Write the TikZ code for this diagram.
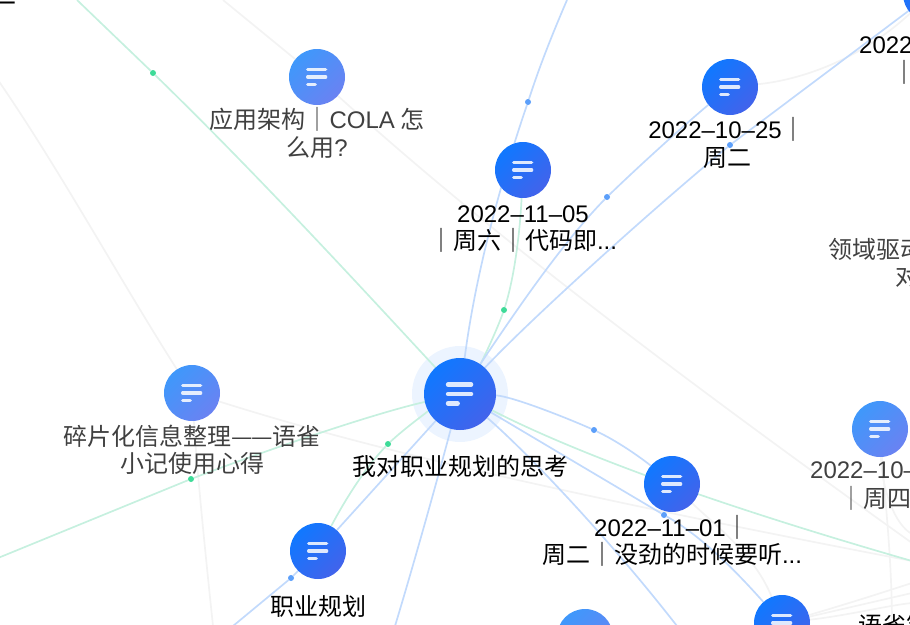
\documentclass[tikz,border=0pt]{standalone}
\usepackage{fontspec}
\setmainfont{Noto Sans CJK SC}
\newfontfamily\latfont{Liberation Sans}
\usetikzlibrary{backgrounds}
\definecolor{bluelink}{HTML}{C2DAFC}
\definecolor{greenlink}{HTML}{C6F0DF}
\definecolor{greylink}{HTML}{F3F3F3}
\definecolor{bluedot}{HTML}{5C9FFA}
\definecolor{greendot}{HTML}{3EDB98}
\definecolor{topA}{HTML}{1078FF}
\definecolor{topB}{HTML}{4263EB}
\definecolor{muteA}{HTML}{3F98FB}
\definecolor{muteB}{HTML}{6A82F2}
\begin{document}
\begin{tikzpicture}[x=1pt, y=-1pt, line cap=round, line join=round,
		font=\fontsize{24}{27.5}\selectfont,
		topic/.style={circle, minimum size=56pt, inner sep=0pt, top color=topA, bottom color=topB, shading angle=45},
		mutetopic/.style={circle, minimum size=56pt, inner sep=0pt, top color=muteA, bottom color=muteB, shading angle=45},
		linkdot/.style={circle, minimum size=6pt, inner sep=0pt},
		blue dot/.style={linkdot, fill=bluedot},
		green dot/.style={linkdot, fill=greendot},
		blue link/.style={draw=bluelink, line width=1.7pt},
		green link/.style={draw=greenlink, line width=1.7pt},
		grey link/.style={draw=greylink, line width=1.7pt},
		strong/.style={align=center, inner sep=0pt, text=black},
		mute/.style={align=center, inner sep=0pt, text=black!75},
		iconbar/.style={draw=white, opacity=0.85},
	]
	\useasboundingbox (0,0) rectangle (910,624);

	% === NODES ===
	\node[topic, minimum size=72pt] (main) at (460,394) {};
	\node[mutetopic] (cola) at (317,77) {};
	\node[topic] (day1105) at (523,170) {};
	\node[topic] (day1025) at (730,87) {};
	\node[topic] (corner) at (931,-6) {};
	\node[topic] (day1101) at (672,484) {};
	\node[mutetopic] (fragment) at (192,393) {};
	\node[topic] (career) at (318,551) {};
	\node[mutetopic] (day1020) at (880,429) {};
	\node[topic] (lowright) at (782,623) {};
	\node[mutetopic] (lowmid) at (585,637) {};

	\foreach \n/\s in {main/1.29, cola/1, day1105/1, day1025/1, corner/1, day1101/1, fragment/1, career/1, day1020/1, lowright/1, lowmid/1} {
		\begin{scope}[shift={(\n)}, scale=\s, line width=\s*3.4pt]
			\draw[iconbar] (-9.3,-7.3) -- (8.6,-7.3);
			\draw[iconbar] (-9.3,0) -- (8.6,0);
			\draw[iconbar] (-9.3,7.3) -- (-1.8,7.3);
		\end{scope}
	}

	% === DOTS ===
	\node[blue dot] (dotA) at (528,102) {};
	\node[blue dot] (dotB) at (607,197) {};
	\node[blue dot] (dotC) at (730,145) {};
	\node[blue dot] (dotD) at (594,430) {};
	\node[blue dot] (dotE) at (664,515) {};
	\node[blue dot] (dotF) at (291,578) {};
	\node[green dot] (dotG) at (153,73) {};
	\node[green dot] (dotH) at (504,310) {};
	\node[green dot] (dotI) at (191,479) {};
	\node[green dot] (dotJ) at (388,444) {};

	% === LABELS ===
	\node[strong] (mainlab) at (460,466.5) {我对职业规划的思考};
	\node[mute] (colalab) at (317,133) {应用架构｜{\latfont COLA} 怎\\么用{\latfont ?}};
	\node[strong] (day1105lab) at (523,229) {{\latfont 2022–11–05}\\｜周六｜代码即{\latfont ...}};
	\node[strong] (day1025lab) at (727,143) {{\latfont 2022–10–25}｜\\周二};
	\node[strong, anchor=west] (cornerlab) at (859,45) {\latfont 2022};
	\node[strong, anchor=west] (cornerbar) at (892,72) {｜};
	\node[strong] (day1101lab) at (672,541) {{\latfont 2022–11–01}｜\\周二｜没劲的时候要听{\latfont ...}};
	\node[mute] (fragmentlab) at (192,450) {碎片化信息整理—\kern-1.5pt—语雀\\小记使用心得};
	\node[strong] (careerlab) at (318,606) {职业规划};
	\node[mute, anchor=west] (day1020lab) at (810,470) {\latfont 2022–10–2};
	\node[mute, anchor=west] (day1020sub) at (839,498) {｜周四｜};
	\node[mute, anchor=west] (domainlab) at (828,249) {领域驱动};
	\node[mute, anchor=west] (domainsub) at (895,276) {对};
	\node[strong, anchor=west] (yuquelab) at (858,625) {语雀笔};
	\node[strong] (cutlab) at (4,-4) {二};

	% === FREE ENDS ===
	\coordinate (endA) at (567,0);
	\coordinate (endB) at (677,626);
	\coordinate (endC) at (233,626);
	\coordinate (endD) at (395,626);
	\coordinate (endE) at (77,0);
	\coordinate (endF) at (-2,558);
	\coordinate (endG) at (912,561);
	\coordinate (endH) at (-2,80);
	\coordinate (endI) at (223,0);
	\coordinate (endJ) at (912,543);
	\coordinate (endK) at (213,626);
	\coordinate (endL) at (892,626);
	\coordinate (endM) at (912,583);
	\coordinate (endN) at (912,593);
	\coordinate (endO) at (912,603);
	\coordinate (endP) at (912,534);

	\begin{pgfonlayer}{background}
		\fill[fill=topA!8] (main) circle (48);

		% === GREY ===
		\draw[grey link] (endH) .. controls (60,170) and (120,280) .. (fragment);
		\draw[grey link] (endI) -- (cola);
		\draw[grey link] (cola) .. controls (450,197) and (600,320) .. (endJ);
		\draw[grey link] (fragment) .. controls (320,433) and (473,477) .. (endG);
		\draw[grey link] (fragment) .. controls (197,470) and (205,550) .. (endK);
		\draw[grey link] (day1025) .. controls (800,80) and (860,60) .. (corner);
		\draw[grey link] (day1101) .. controls (715,525) and (755,555) .. (lowright);
		\draw[grey link] (lowright) .. controls (860,600) and (890,590) .. (endM);
		\draw[grey link] (lowright) -- (endN);
		\draw[grey link] (lowright) .. controls (850,615) and (890,605) .. (endO);
		\draw[grey link] (day1020) .. controls (885,500) and (892,560) .. (endL);
		\draw[grey link] (day1020) .. controls (882,490) and (895,525) .. (endP);

		% === GREEN ===
		\draw[green link] (main) .. controls (370,297) and (260,177) .. (dotG);
		\draw[green link] (dotG) -- (endE);
		\draw[green link] (main) .. controls (480,365) and (495,335) .. (dotH);
		\draw[green link] (dotH) .. controls (515,275) and (520,230) .. (day1105);
		\draw[green link] (main) .. controls (380,412) and (280,445) .. (dotI);
		\draw[green link] (dotI) -- (endF);
		\draw[green link] (main) .. controls (430,410) and (405,428) .. (dotJ);
		\draw[green link] (dotJ) .. controls (365,468) and (345,500) .. (career);
		\draw[green link] (main) .. controls (570,450) and (700,500) .. (endG);

		% === BLUE ===
		\draw[blue link] (main) .. controls (476,270) and (503,175) .. (dotA);
		\draw[blue link] (dotA) .. controls (540,65) and (552,35) .. (endA);
		\draw[blue link] (main) .. controls (510,320) and (560,245) .. (dotB);
		\draw[blue link] (dotB) .. controls (640,165) and (690,120) .. (day1025);
		\draw[blue link] (main) .. controls (530,320) and (640,220) .. (dotC);
		\draw[blue link] (dotC) -- (corner);
		\draw[blue link] (main) .. controls (510,396) and (560,415) .. (dotD);
		\draw[blue link] (dotD) .. controls (625,445) and (650,465) .. (day1101);
		\draw[blue link] (main) -- (dotE);
		\draw[blue link] (dotE) .. controls (700,535) and (735,570) .. (lowright);
		\draw[blue link] (main) .. controls (530,455) and (610,540) .. (endB);
		\draw[blue link] (main) -- (career);
		\draw[blue link] (career) -- (dotF);
		\draw[blue link] (dotF) -- (endC);
		\draw[blue link] (main) .. controls (440,470) and (415,560) .. (endD);
	\end{pgfonlayer}
\end{tikzpicture}
\end{document}
